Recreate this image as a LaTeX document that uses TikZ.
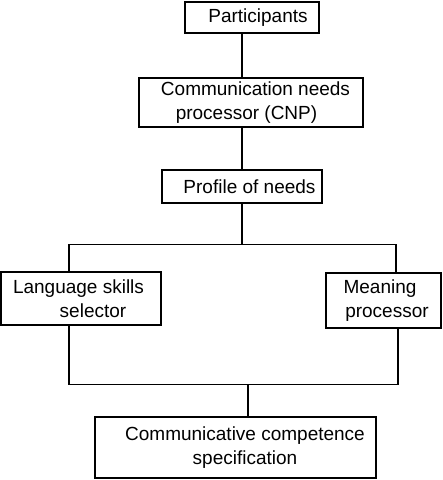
\documentclass[tikz,border=0pt]{standalone}
\usepackage{fontspec}
\setmainfont{Liberation Sans}
\usetikzlibrary{positioning}

\begin{document}
\begin{tikzpicture}[node distance=2cm, on grid, line width=1.1pt,
        box/.style={draw, rectangle, inner sep=0pt, align=center,
            font=\fontsize{19}{24}\selectfont}]
        \useasboundingbox (0,0) rectangle (443pt,-480pt);
        \node[box, minimum width=134pt, minimum height=31pt] (part) at (252pt,-17.5pt) {\hspace*{12pt}Participants};
        \node[box, minimum width=224pt, minimum height=49pt, below=85pt of part, xshift=-1pt] (cnp)
            {\hspace*{9pt}Communication needs\\\hspace*{9pt}processor (CNP)\hspace*{18pt}};
        \node[box, minimum width=160pt, minimum height=33pt, below=84pt of cnp, xshift=-9pt] (prof) {\hspace*{15pt}Profile of needs};
        \node[box, minimum width=160pt, minimum height=53pt, below=112pt of prof, xshift=-161pt] (lang)
            {Language skills\hspace*{5pt}\\\hspace*{24pt}selector};
        \node[box, minimum width=115pt, minimum height=55pt, right=302.5pt of lang, yshift=-2pt] (mean)
            {Meaning\hspace*{7pt}\\\hspace*{7pt}processor};
        \node[box, minimum width=281pt, minimum height=61pt, below=149pt of lang, xshift=154.5pt] (spec)
            {\hspace*{19pt}Communicative competence\\\hspace*{19pt}specification};
        \coordinate[below=41pt of prof.south] (split);
        \coordinate[left=173pt of split] (splitl);
        \coordinate[right=154pt of split] (splitr);
        \coordinate[above=32pt of spec.north, xshift=12.5pt] (join);
        \coordinate[left=179pt of join] (joinl);
        \coordinate[right=150pt of join] (joinr);
        \draw (part.south -| prof.north) -- (cnp.north -| prof.north);
        \draw (cnp.south -| prof.north) -- (prof.north);
        \draw (prof.south) -- (split);
        \draw (lang.north -| splitl) |- (splitr) -- (splitr |- mean.north);
        \draw (lang.south -| joinl) |- (joinr) -- (joinr |- mean.south);
        \draw (join) -- (join |- spec.north);
    \end{tikzpicture}
\end{document}
